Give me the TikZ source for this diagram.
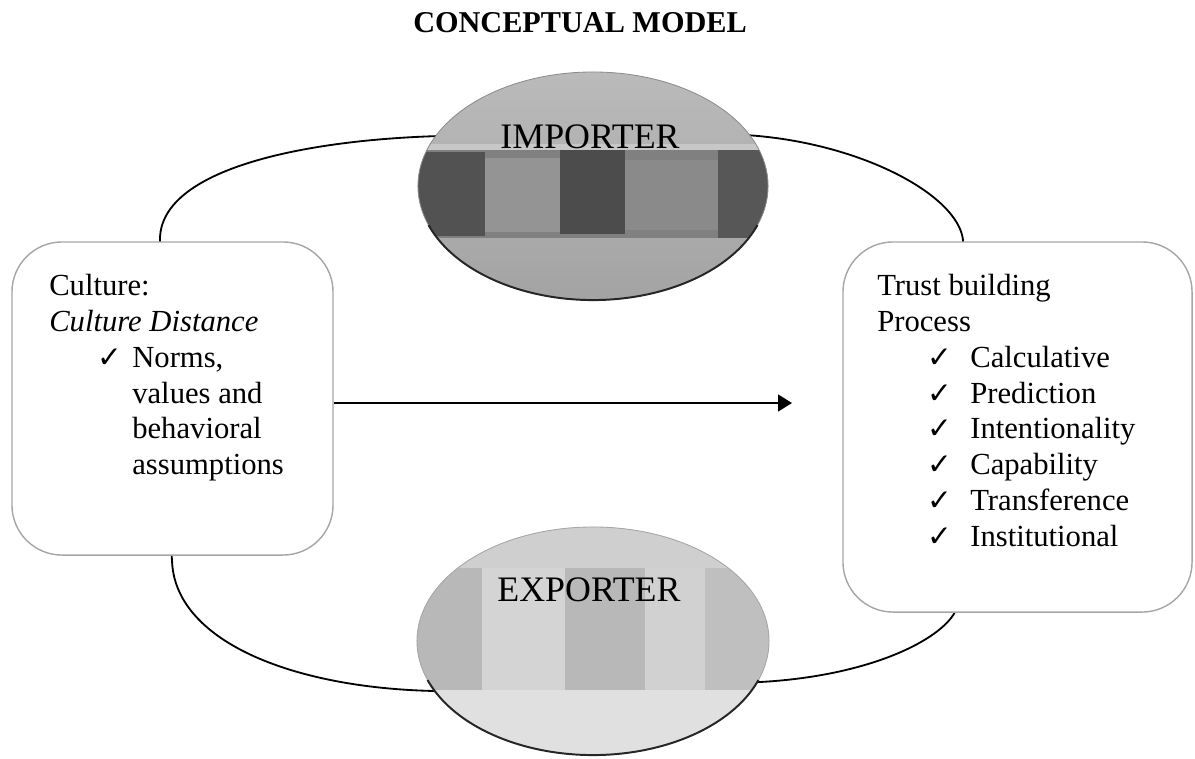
\documentclass[tikz,border=0pt]{standalone}
\usepackage{fontspec}
\setmainfont{Liberation Serif}
\newfontfamily\symfont{DejaVu Sans}
\usetikzlibrary{positioning, calc, arrows.meta, shapes.geometric}

\newcommand{\chk}{{\symfont\fontsize{21}{21}\selectfont ✓}}

\begin{document}
\begin{tikzpicture}
    [x=0.025cm, y=-0.025cm,
    boxnode/.style={rectangle, rounded corners=1.25cm, draw=black!35, line width=1pt, fill=white},
    bodytext/.style={anchor=north west, inner sep=0pt, align=left, font=\fontsize{21.8}{25.5}\selectfont},
    party/.style={ellipse, minimum width=8.75cm, minimum height=5.7cm, inner sep=0pt},
    partylabel/.style={anchor=base, inner sep=0pt, font=\fontsize{25.5}{30}\selectfont},
    ring/.style={line width=1.3pt},
    flow/.style={-{Triangle[length=0.35cm, width=0.42cm]}, line width=1.5pt},]

    \useasboundingbox (0,0) rectangle (1195,758);

    %Title
    \node[font=\fontsize{21.5}{26}\selectfont\bfseries, inner sep=0pt](title) at (580,23){CONCEPTUAL MODEL};

    %Ring round the model
    \draw[ring] (160,400) -- (160,238) .. controls (162,170) and (300,140) .. (440,136)
        -- (745,135) .. controls (860,142) and (958,195) .. (963,240)
        -- (955,612) .. controls (940,640) and (870,676) .. (760,682)
        -- (435,691) .. controls (290,688) and (174,640) .. (172,560) -- cycle;

    %Importer
    \node[party, top color=black!27, bottom color=black!36](importer) at (593,186){};
    \begin{scope}
        \clip (importer.center) ellipse [x radius=4.375cm, y radius=2.85cm];
        \fill[black!50] (400,150) rectangle (790,238);
        \fill[black!68] (400,152) rectangle (485,236);
        \fill[black!42] (485,158) rectangle (560,232);
        \fill[black!70] (560,150) rectangle (625,234);
        \fill[black!46] (625,160) rectangle (718,230);
        \fill[black!66] (718,150) rectangle (790,238);
        \fill[black!22] (400,144) rectangle (790,150);
    \end{scope}
    \draw[black!45, line width=0.6pt] (importer.center) ellipse [x radius=4.375cm, y radius=2.85cm];
    \draw[black!85, line width=1.4pt] (importer.center) ++(200:4.375cm and 2.85cm)
        arc [start angle=200, end angle=340, x radius=4.375cm, y radius=2.85cm];
    \node[partylabel](importerlabel) at (590,148){IMPORTER};

    %Exporter
    \node[party, minimum width=8.8cm, fill=black!24](exporter) at (593,641){};
    \begin{scope}
        \clip (exporter.center) ellipse [x radius=4.4cm, y radius=2.85cm];
        \fill[black!28] (400,568) rectangle (482,690);
        \fill[black!17] (482,568) rectangle (565,690);
        \fill[black!28] (565,568) rectangle (645,690);
        \fill[black!18] (645,568) rectangle (705,690);
        \fill[black!25] (705,568) rectangle (790,690);
        \fill[black!12] (400,690) rectangle (790,760);
        \fill[black!19] (400,520) rectangle (790,568);
    \end{scope}
    \draw[black!35, line width=0.6pt] (exporter.center) ellipse [x radius=4.4cm, y radius=2.85cm];
    \draw[black!85, line width=1.4pt] (exporter.center) ++(200:4.4cm and 2.85cm)
        arc [start angle=200, end angle=340, x radius=4.4cm, y radius=2.85cm];
    \node[partylabel](exporterlabel) at (589,601){EXPORTER};

    %Boxes
    \node[boxnode, minimum width=8.025cm, minimum height=7.825cm](culture) at (172.5,398.5){};
    \node[boxnode, minimum width=8.725cm, minimum height=9.25cm](trust) at (1017.5,427){};

    \node[bodytext](culturetext) at (49,274){Culture:\\
        \textit{Culture Distance}\\
        \hspace*{1.2cm}\makebox[0.875cm][l]{\chk}Norms,\\
        \hspace*{2.075cm}values and\\
        \hspace*{2.075cm}behavioral\\
        \hspace*{2.075cm}assumptions};

    \node[bodytext](trusttext) at (877,274){Trust building\\
        Process\\
        \hspace*{1.25cm}\makebox[1.075cm][l]{\chk}Calculative\\
        \hspace*{1.25cm}\makebox[1.075cm][l]{\chk}Prediction\\
        \hspace*{1.25cm}\makebox[1.075cm][l]{\chk}Intentionality\\
        \hspace*{1.25cm}\makebox[1.075cm][l]{\chk}Capability\\
        \hspace*{1.25cm}\makebox[1.075cm][l]{\chk}Transference\\
        \hspace*{1.25cm}\makebox[1.075cm][l]{\chk}Institutional};

    %Arrow
    \coordinate (arrowtip) at (792,403);
    \draw[flow] (culture.east |- arrowtip) -- (arrowtip);
\end{tikzpicture}
\end{document}
